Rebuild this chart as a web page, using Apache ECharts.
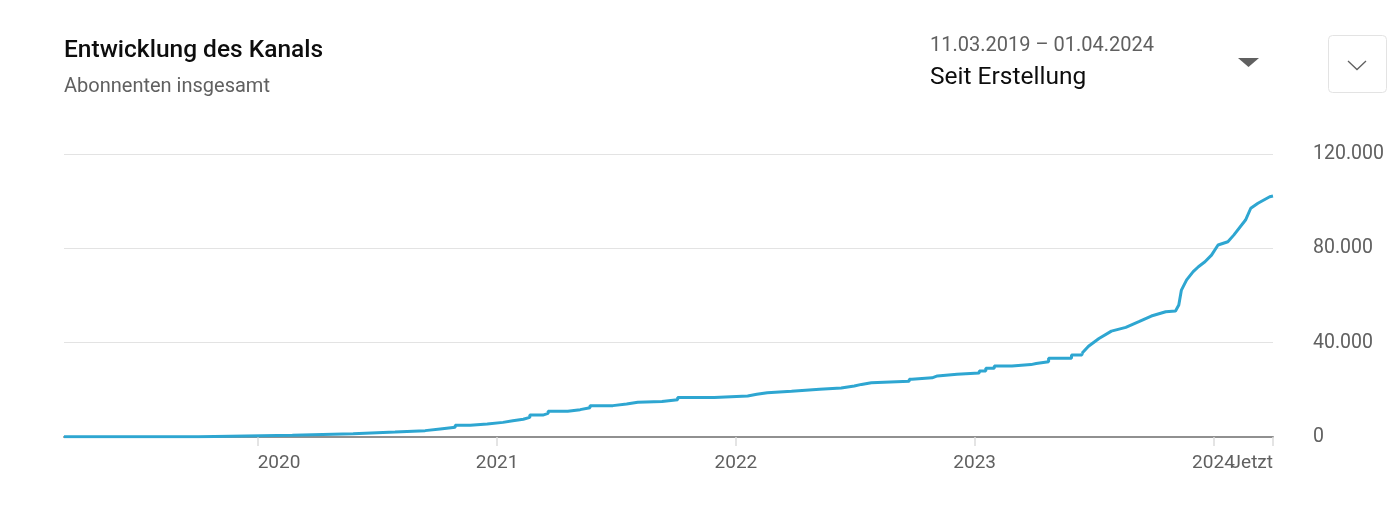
<!DOCTYPE html>
<html lang="de">
<head>
<meta charset="utf-8">
<title>Entwicklung des Kanals</title>
<script src="https://cdn.jsdelivr.net/npm/echarts@6/dist/echarts.min.js"></script>
<style>
  html, body { margin: 0; padding: 0; background: #fff; }
  #chart { width: 1398px; height: 517px; }
</style>
</head>
<body>
<div id="chart"></div>
<script>
// Abonnenten insgesamt
// Treppe bis Mitte 2023 (jeder Punkt = Beginn einer Stufe)
const stepDates = [
  '2019-03-11', '2019-10-03', '2020-02-23', '2020-05-26', '2020-07-29', '2020-09-13',
  '2020-10-06', '2020-10-29', '2020-11-21', '2020-12-17', '2021-01-10', '2021-01-25',
  '2021-02-10', '2021-02-20', '2021-03-12', '2021-03-20', '2021-04-19', '2021-05-08',
  '2021-05-23', '2021-06-27', '2021-07-18', '2021-08-04', '2021-09-10', '2021-10-04',
  '2021-11-29', '2022-01-19', '2022-02-02', '2022-02-18', '2022-03-27', '2022-05-09',
  '2022-06-11', '2022-07-01', '2022-07-12', '2022-07-27', '2022-09-23', '2022-09-27',
  '2022-10-28', '2022-11-05', '2022-12-05', '2023-01-08', '2023-01-18', '2023-01-31',
  '2023-02-27', '2023-03-28', '2023-04-05', '2023-04-24', '2023-05-29', '2023-06-14',
]
const stepValues = [
  100, 700, 1400, 2100, 2700, 3400,
  4100, 5000, 5500, 6200, 6900, 7500,
  8300, 9300, 10000, 10900, 11600, 12400,
  13300, 14000, 14700, 15100, 15800, 16700,
  17400, 18100, 18800, 19400, 20200, 20800,
  21600, 22300, 23000, 23600, 24500, 25100,
  25900, 26600, 27100, 28000, 29100, 30100,
  30700, 31200, 31900, 33400, 34800, 35500,
]
// Anstieg ab Mitte 2023
const riseDates = [
  '2023-06-14', '2023-06-24', '2023-07-10', '2023-07-29', '2023-08-20', '2023-09-09',
  '2023-09-28', '2023-10-20', '2023-11-04', '2023-11-09', '2023-11-13', '2023-11-21',
  '2023-12-01', '2023-12-09', '2023-12-19', '2023-12-29', '2024-01-08', '2024-01-23',
  '2024-02-01', '2024-02-19', '2024-02-27', '2024-03-09', '2024-03-27', '2024-04-01',
]
const riseValues = [
  35500, 38500, 41800, 44900, 46500, 48900,
  51300, 53100, 53400, 56000, 62300, 66600,
  70100, 72200, 74300, 77100, 81400, 82800,
  85600, 92000, 97000, 99100, 101900, 102200,
]

const xMin = '2019-03-11'
const xMax = '2024-04-01'
const yearDates = ['2020-01-01', '2021-01-01', '2022-01-01', '2023-01-01', '2024-01-01']
const yearLabels = ['2020', '2021', '2022', '2023', '2024']
const endLabel = 'Jetzt'
const yTicks = [0, 40000, 80000, 120000]

const LINE = '#2ea6d1'
const GREY = '#606060'
const FONT = 'Roboto, "Noto Sans", sans-serif'

const ts = d => echarts.time.parse(d).getTime()
const yearTimes = yearDates.map(ts)

function xLabel(v) {
  let best = 0
  yearTimes.forEach((t, i) => {
    if (Math.abs(t - v) < Math.abs(yearTimes[best] - v)) best = i
  })
  return yearLabels[best]
}

function deNum(v) {
  return String(v).replace(/\B(?=(\d{3})+(?!\d))/g, '.')
}

const chart = echarts.init(document.getElementById('chart'), null, { renderer: 'canvas' })

chart.setOption({
  animation: false,
  backgroundColor: '#fff',
  textStyle: { fontFamily: FONT },
  grid: { left: 64, right: 125, top: 154, bottom: 80, containLabel: false },
  xAxis: {
    type: 'value',
    min: ts(xMin),
    max: ts(xMax),
    // "Jetzt" sitzt rechtsbündig unter dem Achsenende
    name: endLabel,
    nameLocation: 'end',
    nameGap: 0,
    nameMoveOverlap: false,
    nameTextStyle: {
      color: GREY,
      fontSize: 19,
      fontFamily: FONT,
      align: 'right',
      verticalAlign: 'top',
      padding: [17, 0, 0, 0],
    },
    axisLine: { show: true, lineStyle: { color: '#909090', width: 2 } },
    axisTick: {
      show: true,
      customValues: yearTimes.concat([ts(xMax)]),
      length: 9,
      lineStyle: { color: '#dcdcdc', width: 1.5 },
    },
    axisLabel: {
      customValues: yearTimes,
      formatter: xLabel,
      color: GREY,
      fontSize: 19,
      fontFamily: FONT,
      margin: 17,
      showMinLabel: true,
      showMaxLabel: true,
      alignMinLabel: 'left',
      hideOverlap: false,
    },
    splitLine: { show: false },
  },
  yAxis: {
    type: 'value',
    position: 'right',
    min: yTicks[0],
    max: yTicks[yTicks.length - 1],
    interval: 40000,
    axisLine: { show: false },
    axisTick: { show: false },
    axisLabel: {
      color: GREY,
      fontSize: 19.5,
      fontFamily: FONT,
      margin: 40,
      formatter: deNum,
    },
    splitLine: { lineStyle: { color: '#e3e3e3', width: 1.2 } },
  },
  series: [
    {
      name: 'Abonnenten',
      type: 'line',
      step: 'end',
      smooth: false,
      showSymbol: false,
      lineStyle: { width: 3, color: LINE },
      data: stepDates.map((d, i) => [ts(d), stepValues[i]]),
    },
    {
      name: 'Abonnenten',
      type: 'line',
      smooth: false,
      showSymbol: false,
      lineStyle: { width: 3, color: LINE },
      data: riseDates.map((d, i) => [ts(d), riseValues[i]]),
    },
  ],
  graphic: [
    {
      type: 'text', left: 64, top: 38,
      style: { text: 'Entwicklung des Kanals', fill: '#0d0d0d', font: '500 24.5px ' + FONT },
    },
    {
      type: 'text', left: 64, top: 77,
      style: { text: 'Abonnenten insgesamt', fill: GREY, font: '20px ' + FONT },
    },
    {
      type: 'text', left: 930, top: 36,
      style: { text: '11.03.2019 – 01.04.2024', fill: GREY, font: '20px ' + FONT },
    },
    {
      type: 'text', left: 930, top: 65,
      style: { text: 'Seit Erstellung', fill: '#0d0d0d', font: '24.5px ' + FONT },
    },
    {
      type: 'polygon',
      shape: { points: [[1238, 58], [1259, 58], [1248.5, 67]] },
      style: { fill: GREY },
    },
    {
      type: 'rect',
      shape: { x: 1328.5, y: 35.5, width: 58, height: 57, r: 4 },
      style: { fill: 'none', stroke: '#e3e3e3', lineWidth: 1 },
    },
    {
      type: 'polyline',
      shape: { points: [[1348, 61], [1357, 69.5], [1366, 61]] },
      style: { fill: 'none', stroke: GREY, lineWidth: 1.3 },
    },
  ],
})
</script>
</body>
</html>
